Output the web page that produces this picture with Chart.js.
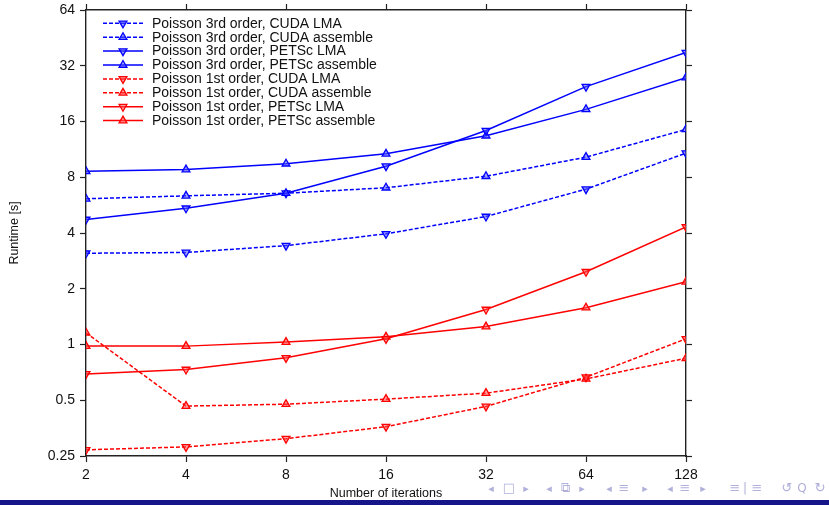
<!DOCTYPE html>
<html><head><meta charset="utf-8">
<script src="https://cdn.jsdelivr.net/npm/chart.js@4/dist/chart.umd.min.js"></script>
<style>html,body{margin:0;padding:0;background:#fff}#wrap{width:829px;height:505px;position:relative}</style>
</head><body><div id="wrap"><canvas id="c" width="829" height="505"></canvas></div>
<script>
const iterations = [2, 4, 8, 16, 32, 64, 128];
const xTicks = [2, 4, 8, 16, 32, 64, 128];
const yTicks = [0.25, 0.5, 1, 2, 4, 8, 16, 32, 64];
const seriesNames = [
  "Poisson 3rd order, CUDA LMA", "Poisson 3rd order, CUDA assemble",
  "Poisson 3rd order, PETSc LMA", "Poisson 3rd order, PETSc assemble",
  "Poisson 1st order, CUDA LMA", "Poisson 1st order, CUDA assemble",
  "Poisson 1st order, PETSc LMA", "Poisson 1st order, PETSc assemble"
];
const p3CudaLma  = [3.11, 3.14, 3.42, 3.96, 4.91, 6.9, 10.8];
const p3CudaAsm  = [6.12, 6.35, 6.56, 7.02, 8.1, 10.27, 14.5];
const p3PetscLma = [4.73, 5.44, 6.56, 9.18, 14.3, 24.7, 37.7];
const p3PetscAsm = [8.62, 8.8, 9.46, 10.7, 13.4, 18.6, 27.6];
const p1CudaLma  = [0.27, 0.28, 0.31, 0.36, 0.463, 0.666, 1.073];
const p1CudaAsm  = [1.157, 0.465, 0.476, 0.507, 0.546, 0.652, 0.843];
const p1PetscLma = [0.694, 0.733, 0.847, 1.073, 1.545, 2.47, 4.31];
const p1PetscAsm = [0.98, 0.98, 1.03, 1.1, 1.25, 1.58, 2.18];
const xTitle = "Number of iterations";
const yTitle = "Runtime [s]";

const allSeries = [p3CudaLma, p3CudaAsm, p3PetscLma, p3PetscAsm, p1CudaLma, p1CudaAsm, p1PetscLma, p1PetscAsm];
const styles = [
  {c:'#0000ff', fill:'rgba(80,80,255,0.55)', dash:[4,2], down:true},
  {c:'#0000ff', fill:'rgba(80,80,255,0.55)', dash:[4,2], down:false},
  {c:'#0000ff', fill:'rgba(80,80,255,0.55)', dash:[], down:true},
  {c:'#0000ff', fill:'rgba(80,80,255,0.55)', dash:[], down:false},
  {c:'#ff0000', fill:'rgba(255,80,80,0.55)', dash:[4,2], down:true},
  {c:'#ff0000', fill:'rgba(255,80,80,0.55)', dash:[4,2], down:false},
  {c:'#ff0000', fill:'rgba(255,80,80,0.55)', dash:[], down:true},
  {c:'#ff0000', fill:'rgba(255,80,80,0.55)', dash:[], down:false}
];
const datasets = allSeries.map((vals, i) => ({
  label: seriesNames[i],
  data: vals.map((v, j) => ({x: iterations[j], y: v})),
  borderColor: styles[i].c,
  backgroundColor: styles[i].fill,
  borderWidth: 1.5,
  borderDash: styles[i].dash,
  pointStyle: 'triangle',
  rotation: styles[i].down ? 180 : 0,
  pointRadius: 4.5,
  pointBorderWidth: 1.3,
  pointBorderColor: styles[i].c,
  pointBackgroundColor: styles[i].fill,
  tension: 0
}));

const FONT = "'Liberation Sans', Arial, sans-serif";
function axis(pos, ticks, min, max, size, showLabels) {
  return {
    type: 'logarithmic', position: pos, min: min, max: max,
    afterBuildTicks: s => { s.ticks = ticks.map(v => ({value: v})); },
    afterFit: s => {
      if (pos==='left'||pos==='right') s.width = size; else s.height = size;
      s.paddingTop = 0; s.paddingBottom = 0; s.paddingLeft = 0; s.paddingRight = 0;
    },
    grid: {drawOnChartArea: false, drawTicks: true, tickLength: 6, color: '#222', tickWidth: 1.2},
    border: {display: true, color: '#222', width: 1.4},
    ticks: {display: showLabels, autoSkip: false, maxRotation: 0, color: '#111',
      font: {family: FONT, size: 14}, padding: 5, callback: v => String(v)}
  };
}

const decorations = {
  id: 'decor',
  afterDraw(chart) {
    const ctx = chart.ctx;
    ctx.save();
    // legend inside plot
    const lx0 = 103, lx1 = 143, tx = 152, y0 = 23.3, dy = 13.9;
    ctx.font = "14px " + FONT;
    ctx.textBaseline = 'middle';
    ctx.textAlign = 'left';
    datasets.forEach((d, i) => {
      const y = y0 + i * dy;
      ctx.strokeStyle = d.borderColor;
      ctx.lineWidth = 1.5;
      ctx.setLineDash(d.borderDash);
      ctx.beginPath(); ctx.moveTo(lx0, y); ctx.lineTo(lx1, y); ctx.stroke();
      ctx.setLineDash([]);
      ctx.fillStyle = d.pointBackgroundColor;
      ctx.strokeStyle = d.pointBorderColor;
      ctx.lineWidth = 1.3;
      Chart.helpers.drawPoint(ctx, {pointStyle: 'triangle', rotation: d.rotation, radius: 4.5, borderWidth: 1.3}, (lx0+lx1)/2, y);
      ctx.fillStyle = '#111';
      ctx.fillText(d.label, tx, y + 0.5);
    });
    // axis titles
    ctx.fillStyle = '#111';
    ctx.font = "12.5px " + FONT;
    ctx.textAlign = 'center';
    ctx.fillText(xTitle, 386, 494);
    ctx.save();
    ctx.translate(15, 233);
    ctx.rotate(-Math.PI / 2);
    ctx.fillText(yTitle, 0, 0);
    ctx.restore();
    // beamer bottom bar
    ctx.fillStyle = '#16168a';
    ctx.fillRect(0, 500, 829, 5);
    // beamer navigation symbols
    ctx.fillStyle = '#b0b0da';
    const nav = [['◂',491,11],['□',509,13],['▸',526,11],['◂',549,11],['⧉',565,13],['▸',582,11],
                 ['◂',609,11],['≡',624,13],['▸',645,11],['◂',670,11],['≡',685,13],['▸',703,11],
                 ['≡',735,13],['|',745,12],['≡',757,13],['↺',787,13],['Q',802,12],['↻',820,13]];
    nav.forEach(([t, x, s]) => { ctx.font = s + "px 'DejaVu Sans', sans-serif"; ctx.fillText(t, x, 489); });
    ctx.restore();
  }
};

new Chart(document.getElementById('c'), {
  type: 'line',
  data: {datasets},
  options: {
    responsive: false, animation: false, devicePixelRatio: 1,
    layout: {padding: 0},
    plugins: {legend: {display: false}, tooltip: {enabled: false}},
    scales: {
      x: axis('bottom', xTicks, 2, 128, 49, true),
      x2: axis('top', xTicks, 2, 128, 10, false),
      y: axis('left', yTicks, 0.25, 64, 86, true),
      y2: axis('right', yTicks, 0.25, 64, 143, false)
    }
  },
  plugins: [decorations]
});
</script></body></html>
